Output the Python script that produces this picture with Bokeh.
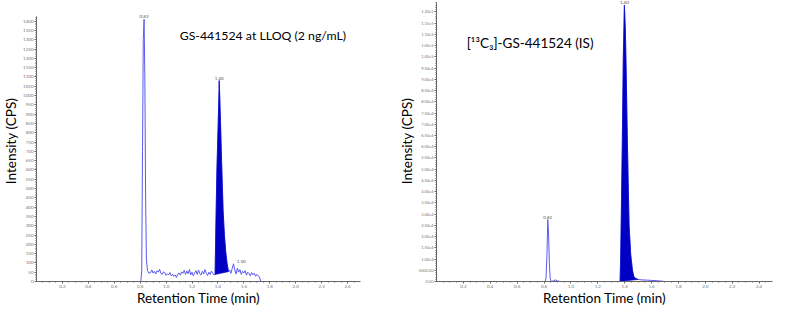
from bokeh.plotting import figure
from bokeh.layouts import row
from bokeh.models import FixedTicker, Label
from bokeh.embed import file_html
from bokeh.resources import INLINE

nan = float("nan")

# ---------------- Left panel: GS-441524 at LLOQ (2 ng/mL) ----------------
left_title = "GS-441524 at LLOQ (2 ng/mL)"
left_x = [0.805, 0.812, 0.818, 0.824, 0.830, 0.836, 0.842, 0.848, 0.856, 0.866,
          0.88, 0.89, 0.90, 0.91, 0.92, 0.93, 0.94, 0.95, 0.96, 0.97,
          0.98, 0.99, 1.00, 1.01, 1.02, 1.03, 1.04, 1.05, 1.06, 1.07,
          1.08, 1.09, 1.10, 1.11, 1.12, 1.13, 1.14, 1.15, 1.16, 1.17,
          1.18, 1.19, 1.20, 1.21, 1.22, 1.23, 1.24, 1.25, 1.26, 1.27,
          1.28, 1.29, 1.30, 1.31, 1.32, 1.33, 1.34, 1.35, 1.36, 1.37,
          1.378, 1.384, 1.392, 1.402, 1.410, 1.418, 1.428, 1.440, 1.450, 1.460, 1.470, 1.481,
          1.49, 1.50, 1.51, 1.52, 1.53, 1.54, 1.55, 1.56, 1.57, 1.58,
          1.59, 1.60, 1.61, 1.62, 1.63, 1.64, 1.65, 1.66, 1.67, 1.68,
          1.69, 1.70, 1.71, 1.72, 1.73]
left_y = [0, 60, 700, 1300, 1410, 1100, 450, 120, 60, 45,
          48, 62, 45, 55, 40, 58, 50, 66, 44, 38,
          52, 47, 33, 41, 36, 48, 30, 39, 28, 35,
          22, 40, 46, 34, 52, 44, 60, 38, 56, 42,
          65, 36, 50, 30, 45, 58, 38, 62, 42, 35,
          55, 40, 64, 44, 32, 50, 38, 56, 42, 36,
          37, 300, 600, 850, 1080, 900, 650, 380, 250, 160, 100, 53,
          62, 44, 70, 95, 62, 40, 72, 50, 64, 38,
          55, 46, 58, 34, 50, 42, 30, 48, 36, 44,
          28, 38, 30, 25, 0]
left_fill_start = 60   # index of 1.378
left_fill_end = 71     # index of 1.481
left_peak_labels = ["0.83", "1.40", "1.50"]
left_peak_lx = [0.830, 1.410, 1.545]
left_peak_ly = [1410, 1080, 95]
left_yticks = list(range(0, 1401, 50))
left_xticks = [0.2, 0.4, 0.6, 0.8, 1.0, 1.2, 1.4, 1.6, 1.8, 2.0, 2.2, 2.4]
left_xtick_labels = ["0.2", "0.4", "0.6", "0.8", "1.0", "1.2", "1.4", "1.6", "1.8", "2.0", "2.2", "2.4"]

# ---------------- Right panel: [13C3]-GS-441524 (IS) ----------------
right_title = "[\u00b9\u00b3C\u2083]-GS-441524 (IS)"
right_x = [0.808, 0.815, 0.822, 0.828, 0.834, 0.840, 0.846, 0.852, 0.87, 0.885, 0.90, 0.92, nan,
           1.366, 1.370, 1.375, 1.382, 1.390, 1.398, 1.405, 1.411, 1.418, 1.426, 1.433,
           1.445, 1.458, 1.468, 1.480, 1.500, 1.53, 1.57, 1.61, 1.65, 1.70]
right_y = [0, 1500, 12000, 27600, 21000, 7900, 1500, 0, 300, 700, 250, 0, nan,
           0, 10000, 30000, 60000, 100000, 123000, 112000, 95000, 70000, 45000, 25000,
           12000, 5000, 2200, 1500, 900, 700, 600, 450, 300, 0]
right_fill_start = 13  # index of 1.366
right_fill_end = 28    # index of 1.500
right_peak_labels = ["0.82", "1.40"]
right_peak_lx = [0.828, 1.398]
right_peak_ly = [27600, 123000]
right_yticks = [0, 5000, 10000, 15000, 20000, 25000, 30000, 35000, 40000, 45000, 50000,
                55000, 60000, 65000, 70000, 75000, 80000, 85000, 90000, 95000, 100000,
                105000, 110000, 115000, 120000]
right_ytick_labels = ["0.00", "5000.00", "1.00e4", "1.50e4", "2.00e4", "2.50e4", "3.00e4",
                      "3.50e4", "4.00e4", "4.50e4", "5.00e4", "5.50e4", "6.00e4", "6.50e4",
                      "7.00e4", "7.50e4", "8.00e4", "8.50e4", "9.00e4", "9.50e4", "1.00e5",
                      "1.05e5", "1.10e5", "1.15e5", "1.20e5"]
right_xticks = left_xticks
right_xtick_labels = left_xtick_labels

LINE = "#5a5af0"
FILL = "#0000c4"
AXIS = "#666666"
FONT = "Lato"


def style(p, yticks, ylabels, xticks, xlabels, minor_y):
    p.outline_line_color = None
    p.xgrid.visible = False
    p.ygrid.visible = False
    for ax in (p.xaxis[0], p.yaxis[0]):
        ax.axis_line_color = AXIS
        ax.major_tick_line_color = AXIS
        ax.minor_tick_line_color = AXIS
        ax.major_tick_in = 0
        ax.major_tick_out = 2
        ax.minor_tick_in = 0
        ax.minor_tick_out = 1
        ax.major_label_text_color = "#777777"
        ax.major_label_text_font = FONT
        ax.major_label_standoff = 1
        ax.axis_label_text_font = FONT
        ax.axis_label_text_font_style = "normal"
        ax.axis_label_text_font_size = "13.5px"
        ax.axis_label_text_color = "#000000"
        ax.axis_label_standoff = 1
    p.xaxis[0].axis_label_standoff = -1
    p.xaxis[0].ticker = FixedTicker(ticks=xticks,
                                    minor_ticks=[i * 0.05 for i in range(1, 50)])
    p.xaxis[0].major_label_overrides = {t: s for t, s in zip(xticks, xlabels)}
    p.yaxis[0].ticker = FixedTicker(ticks=yticks, minor_ticks=minor_y)
    p.yaxis[0].major_label_overrides = {t: s for t, s in zip(yticks, ylabels)}
    p.xaxis[0].major_label_text_font_size = "4.5px"
    p.yaxis[0].major_label_text_font_size = "4.5px"
    p.xaxis.axis_label = "Retention Time (min)"
    p.yaxis.axis_label = "Intensity (CPS)"


H = 308

# Left figure
p1 = figure(width=395, height=H, x_range=(0, 2.5), y_range=(0, 1511),
            output_backend="svg", toolbar_location=None,
            min_border_left=31, min_border_right=35, min_border_top=0, min_border_bottom=24)
style(p1, left_yticks, [str(t) for t in left_yticks], left_xticks, left_xtick_labels,
      [i * 10 for i in range(0, 143)])
p1.yaxis[0].bounds = (0, 1426)
p1.line(left_x, left_y, line_color=LINE, line_width=1)
p1.patch(left_x[left_fill_start:left_fill_end + 1], left_y[left_fill_start:left_fill_end + 1],
         fill_color=FILL, line_color=FILL, line_width=0.5)
for t, x, y in zip(left_peak_labels, left_peak_lx, left_peak_ly):
    p1.add_layout(Label(x=x, y=y, text=t, text_font=FONT, text_font_size="4.5px",
                        text_color="#555555", text_align="center" if t != "1.50" else "left",
                        text_baseline="bottom", y_offset=1))
p1.add_layout(Label(x=1.105, y=1325, text=left_title, text_font=FONT, text_font_size="12.3px",
                    text_color="#000000", text_align="left", text_baseline="middle"))

# Right figure
p2 = figure(width=378, height=H, x_range=(0, 2.5), y_range=(0, 125100),
            output_backend="svg", toolbar_location=None,
            min_border_left=31, min_border_right=1, min_border_top=0, min_border_bottom=24)
style(p2, right_yticks, right_ytick_labels, right_xticks, right_xtick_labels,
      [i * 1000 for i in range(0, 125)])
p2.yaxis[0].major_label_text_font_size = "4px"
p2.yaxis[0].bounds = (0, 124300)
p2.line(right_x, right_y, line_color=LINE, line_width=1)
p2.patch(right_x[right_fill_start:right_fill_end + 1], right_y[right_fill_start:right_fill_end + 1],
         fill_color=FILL, line_color=FILL, line_width=0.5)
for t, x, y in zip(right_peak_labels, right_peak_lx, right_peak_ly):
    p2.add_layout(Label(x=x, y=y, text=t, text_font=FONT, text_font_size="4.5px",
                        text_color="#555555", text_align="center",
                        text_baseline="bottom", y_offset=1))
p2.add_layout(Label(x=0.225, y=106200, text=right_title, text_font=FONT, text_font_size="13.5px",
                    text_color="#000000", text_align="left", text_baseline="middle"))

layout = row(p1, p2)
open("out.html", "w").write(file_html(layout, INLINE))
